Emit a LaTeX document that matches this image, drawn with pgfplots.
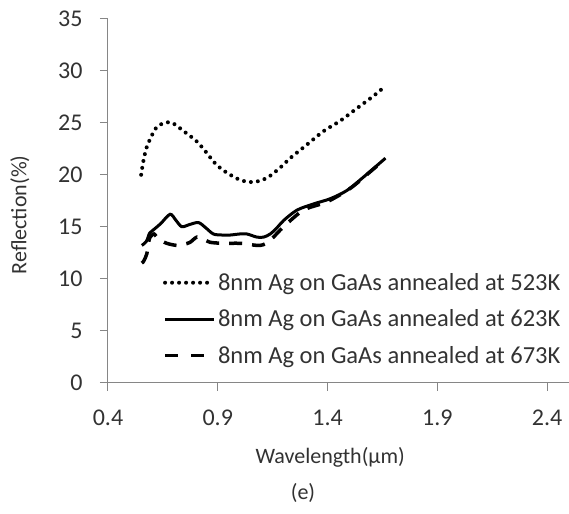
\documentclass[border=0pt]{standalone}
\usepackage{fontspec}
\setmainfont{Carlito}
\usepackage{pgfplots}
\pgfplotsset{compat=1.18}
\definecolor{txt}{RGB}{50,50,50}
\definecolor{axgray}{RGB}{134,134,134}
\pgfplotsset{dashlegend/.style={legend image code/.code={\draw[##1, dash pattern=on 13pt off 13pt] (0pt,0pt) -- (49pt,0pt);}}}
\begin{document}
\begin{tikzpicture}
\begin{axis}[name=ax, scale only axis, width=461pt, height=363.5pt,
  xmin=0.4, xmax=2.5, ymin=0, ymax=35,
  axis x line*=bottom, axis y line*=left,
  xtick={0.4,0.9,1.4,1.9,2.4}, ytick={0,5,...,35},
  xticklabel style={/pgf/number format/fixed, /pgf/number format/precision=1, /pgf/number format/fixed zerofill},
  /pgf/number format/assume math mode=true,
  tick align=outside, major tick length=8pt,
  tick style={axgray, line width=1pt},
  axis line style={axgray, line width=1pt},
  tick label style={font=\fontsize{24}{28}\selectfont, text=txt},
  yticklabel style={xshift=-14pt},
  xticklabel style={yshift=-16pt},
  xlabel={Wavelength(µm)}, ylabel={Reflection(\%)},
  label style={font=\fontsize{22}{26}\selectfont, text=txt},
  xlabel style={at={(axis description cs:0.482,-0.205)}, anchor=center},
  ylabel style={at={(axis description cs:-0.191,0.461)}, anchor=center},
  clip=false,
  legend cell align=left,
  legend image code/.code={\draw[#1] (0pt,0pt) -- (49pt,0pt);},
  legend style={at={(axis description cs:0.119,0.306)}, anchor=north west, draw=none, fill=none, inner sep=0pt, row sep=14pt, font=\fontsize{24.5}{28}\selectfont, text=txt, nodes={inner sep=2pt}},
]
\addplot[black, line width=4pt, dash pattern=on 0pt off 7pt, line cap=round, smooth, tension=0.5] coordinates {
(0.551,20.0) (0.561,21.3) (0.577,22.7) (0.607,24.1) (0.628,24.7) (0.66,25.0) (0.693,25.0) (0.751,24.1) (0.805,23.2) (0.850,22.1) (0.888,21.1) (0.934,20.3) (1.002,19.5) (1.063,19.3) (1.124,19.7) (1.185,20.7) (1.230,21.6) (1.306,22.9) (1.382,24.2) (1.458,25.2) (1.534,26.4) (1.610,27.6) (1.661,28.5)};
\addlegendentry{8nm Ag on GaAs annealed at 523K}
\addplot[black, line width=3pt, smooth, tension=0.5] coordinates {
(0.554,13.2) (0.575,13.6) (0.590,14.4) (0.607,14.7) (0.640,15.3) (0.683,16.2) (0.710,15.6) (0.736,15.0) (0.770,15.2) (0.812,15.4) (0.845,14.9) (0.880,14.3) (0.920,14.2) (0.957,14.2) (1.000,14.3) (1.033,14.3) (1.078,14.0) (1.109,14.0) (1.139,14.3) (1.170,14.9) (1.200,15.6) (1.261,16.6) (1.337,17.2) (1.413,17.7) (1.489,18.5) (1.565,19.8) (1.664,21.6)};
\addlegendentry{8nm Ag on GaAs annealed at 623K}
\addplot[black, line width=3.5pt, dash pattern=on 13pt off 10pt, smooth, tension=0.5, dashlegend] coordinates {
(0.554,11.5) (0.560,11.6) (0.570,12.0) (0.577,12.4) (0.585,13.5) (0.592,14.0) (0.610,14.3) (0.630,13.8) (0.668,13.4) (0.713,13.2) (0.745,13.3) (0.774,13.5) (0.805,14.0) (0.835,13.8) (0.865,13.5) (0.926,13.4) (1.002,13.4) (1.093,13.2) (1.139,13.7) (1.200,15.0) (1.291,16.6) (1.398,17.4) (1.504,18.7) (1.595,20.3) (1.656,21.4)};
\addlegendentry{8nm Ag on GaAs annealed at 673K}
\node[font=\fontsize{22}{26}\selectfont, text=txt] at (axis description cs:0.423,-0.304) {(e)};
\end{axis}
\pgfresetboundingbox
\path ([xshift=-108pt,yshift=-130.5pt]ax.south west) rectangle ([yshift=19pt]ax.north east);
\end{tikzpicture}
\end{document}
